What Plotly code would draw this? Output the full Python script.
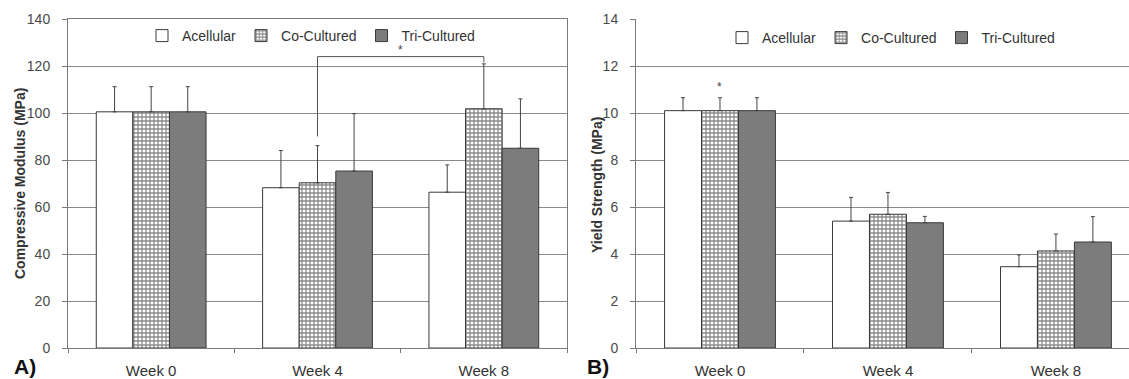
import plotly.graph_objects as go

# ---------------- data ----------------
weeks = ["Week 0", "Week 4", "Week 8"]
groups = ["Acellular", "Co-Cultured", "Tri-Cultured"]

# Panel A: compressive modulus (MPa), mean and +SD
mod_acellular = [100.5, 68.2, 66.3]
mod_acellular_err = [10.7, 15.8, 11.6]
mod_co = [100.5, 70.3, 101.8]
mod_co_err = [10.7, 15.8, 19.1]
mod_tri = [100.5, 75.3, 85.0]
mod_tri_err = [10.7, 24.4, 21.0]

# Panel B: yield strength (MPa), mean and +SD
ys_acellular = [10.1, 5.40, 3.46]
ys_acellular_err = [0.55, 1.01, 0.50]
ys_co = [10.1, 5.69, 4.13]
ys_co_err = [0.55, 0.93, 0.72]
ys_tri = [10.1, 5.33, 4.51]
ys_tri_err = [0.55, 0.27, 1.08]

# significance markers
a_bracket_from, a_bracket_to = 1, 2      # week index (co-cultured bars)
a_bracket_level = 124
a_bracket_left_foot = 90
a_bracket_right_foot = 121.5
a_star_level = 127
b_star_week = 0
b_star_level = 11.1

# ---------------- styles ----------------
FONT = "Liberation Sans, Arial, sans-serif"
GRID = "#8a8a8a"
AXIS = "#7a7a7a"
EDGE = "#3a3a3a"
TICKTXT = "#4a4a4a"

styles = {
    "Acellular": dict(color="white", line=dict(color=EDGE, width=1)),
    "Co-Cultured": dict(color="white", line=dict(color=EDGE, width=1),
                        pattern=dict(shape="+", size=4, solidity=0.55,
                                     fgcolor="#1a1a1a", bgcolor="white",
                                     fillmode="overlay")),
    "Tri-Cultured": dict(color="#7c7c7c", line=dict(color=EDGE, width=1)),
}

fig = go.Figure()

panelA = [(mod_acellular, mod_acellular_err), (mod_co, mod_co_err), (mod_tri, mod_tri_err)]
panelB = [(ys_acellular, ys_acellular_err), (ys_co, ys_co_err), (ys_tri, ys_tri_err)]

for name, (vals, errs) in zip(groups, panelA):
    fig.add_trace(go.Bar(
        x=weeks, y=vals, name=name, marker=styles[name],
        error_y=dict(type="data", array=errs, arrayminus=[0] * len(errs),
                     symmetric=False, color="#444444", thickness=1, width=2),
        xaxis="x", yaxis="y", legend="legend",
    ))

for name, (vals, errs) in zip(groups, panelB):
    fig.add_trace(go.Bar(
        x=weeks, y=vals, name=name, marker=styles[name],
        error_y=dict(type="data", array=errs, arrayminus=[0] * len(errs),
                     symmetric=False, color="#444444", thickness=1, width=2),
        xaxis="x2", yaxis="y2", legend="legend2",
    ))

W, H = 1129, 379
top_px, bot_px = 19, 348
ydom = [1 - bot_px / H, 1 - top_px / H]

common_x = dict(type="category", showline=True, linecolor=AXIS, linewidth=1,
                ticks="outside", tickson="boundaries", ticklen=4, tickcolor=AXIS,
                showgrid=False, tickfont=dict(family=FONT, size=15, color="#333333"),
                ticklabelstandoff=9, automargin=False)
common_y = dict(showline=True, linecolor=AXIS, linewidth=1, ticks="outside",
                ticklen=5, tickcolor=AXIS, showgrid=True, gridcolor=GRID,
                gridwidth=1.2, zeroline=False,
                tickfont=dict(family=FONT, size=14, color=TICKTXT),
                ticklabelstandoff=9, automargin=False)

fig.update_layout(
    width=W, height=H,
    margin=dict(l=0, r=0, t=0, b=0, pad=0, autoexpand=False),
    paper_bgcolor="white", plot_bgcolor="white",
    barmode="group", bargap=0.34, bargroupgap=0,
    xaxis=dict(domain=[68 / W, 567 / W], range=[-0.5, 2.5], mirror=True,
               anchor="y", **common_x),
    yaxis=dict(domain=ydom, range=[0, 140], dtick=20, mirror=True,
               anchor="x", **common_y),
    xaxis2=dict(domain=[636 / W, 1.0], range=[-0.5, 2.435], anchor="y2",
                **common_x),
    yaxis2=dict(domain=ydom, range=[0, 14], dtick=2, anchor="x2", **common_y),
    legend=dict(orientation="h", x=311 / W, y=1 - 36 / H, xanchor="center",
                yanchor="middle", bgcolor="rgba(0,0,0,0)",
                font=dict(family=FONT, size=14, color="#333333"),
                itemwidth=30, tracegroupgap=0),
    legend2=dict(orientation="h", x=891 / W, y=1 - 38 / H, xanchor="center",
                 yanchor="middle", bgcolor="rgba(0,0,0,0)",
                 font=dict(family=FONT, size=14, color="#333333"),
                 itemwidth=30, tracegroupgap=0),
)

# significance bracket in panel A
line_style = dict(color="#555555", width=1)
fig.add_shape(type="line", xref="x", yref="y", x0=a_bracket_from, x1=a_bracket_from,
              y0=a_bracket_left_foot, y1=a_bracket_level, line=line_style)
fig.add_shape(type="line", xref="x", yref="y", x0=a_bracket_from, x1=a_bracket_to,
              y0=a_bracket_level, y1=a_bracket_level, line=line_style)
fig.add_shape(type="line", xref="x", yref="y", x0=a_bracket_to, x1=a_bracket_to,
              y0=a_bracket_level, y1=a_bracket_right_foot, line=line_style)
fig.add_annotation(xref="x", yref="y", x=(a_bracket_from + a_bracket_to) / 2,
                   y=a_star_level, text="*", showarrow=False,
                   font=dict(family=FONT, size=12, color="#444444"))
fig.add_annotation(xref="x2", yref="y2", x=b_star_week, y=b_star_level, text="*",
                   showarrow=False, font=dict(family=FONT, size=12, color="#444444"))

# axis titles
fig.add_annotation(xref="paper", yref="paper", x=20 / W, y=1 - 184 / H,
                   xanchor="center", yanchor="middle",
                   text="<b>Compressive Modulus (MPa)</b>", textangle=-90,
                   showarrow=False, font=dict(family=FONT, size=14, color="#333333"))
fig.add_annotation(xref="paper", yref="paper", x=597 / W, y=1 - 185 / H,
                   xanchor="center", yanchor="middle",
                   text="<b>Yield Strength (MPa)</b>", textangle=-90,
                   showarrow=False, font=dict(family=FONT, size=14, color="#333333"))

# panel labels
fig.add_annotation(xref="paper", yref="paper", x=25 / W, y=1 - 366 / H,
                   xanchor="center", yanchor="middle",
                   text="<b>A)</b>", showarrow=False,
                   font=dict(family=FONT, size=21, color="#111111"))
fig.add_annotation(xref="paper", yref="paper", x=598 / W, y=1 - 366 / H,
                   xanchor="center", yanchor="middle",
                   text="<b>B)</b>", showarrow=False,
                   font=dict(family=FONT, size=21, color="#111111"))

fig.write_html("out.html",
               config={"displayModeBar": False},
               post_script="document.body.style.margin='0';"
                           "document.body.style.overflow='hidden';")
